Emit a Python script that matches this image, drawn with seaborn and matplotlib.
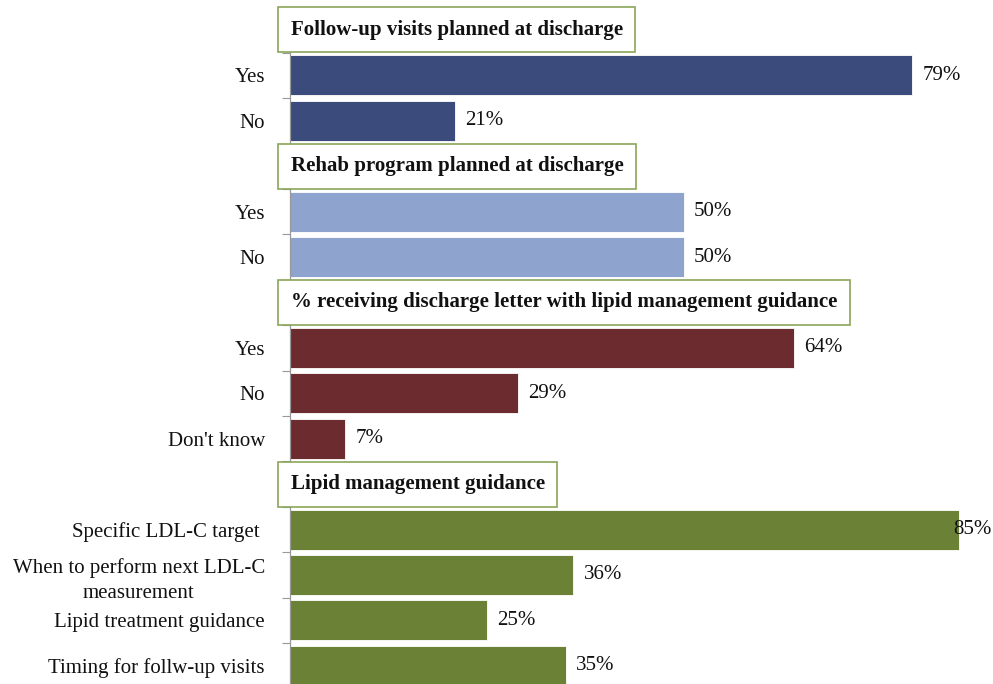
import pandas as pd
import matplotlib.pyplot as plt
import seaborn as sns

# data
headers = [
    "Follow-up visits planned at discharge",
    "Rehab program planned at discharge",
    "% receiving discharge letter with lipid management guidance",
    "Lipid management guidance",
]
followup_labels = ["Yes", "No"]
followup_values = [79, 21]
rehab_labels = ["Yes", "No"]
rehab_values = [50, 50]
letter_labels = ["Yes", "No", "Don't know"]
letter_values = [64, 29, 7]
guidance_labels = ["Specific LDL-C target ", "When to perform next LDL-C\nmeasurement",
                   "Lipid treatment guidance", "Timing for follw-up visits"]
guidance_values = [85, 36, 25, 35]

colors = ["#3A4B7C", "#8FA3CF", "#6C2B2E", "#6B8135"]

sections = [
    (followup_labels, followup_values),
    (rehab_labels, rehab_values),
    (letter_labels, letter_values),
    (guidance_labels, guidance_values),
]

# build one long table, with an empty slot before each section for its header
rows = []
order = []
tick_labels = []
header_slots = []
for i, (labels, values) in enumerate(sections):
    header_slots.append(len(order))
    order.append("h%d" % i)
    tick_labels.append("")
    for lab, val in zip(labels, values):
        key = "s%d_%s" % (i, lab)
        order.append(key)
        tick_labels.append(lab)
        rows.append({"key": key, "value": val, "section": headers[i]})
df = pd.DataFrame(rows)

sns.set_style("white")
plt.rcParams["font.family"] = ["Liberation Serif", "DejaVu Serif"]

fig = plt.figure(figsize=(9.93, 6.84), dpi=100)
ax = fig.add_axes([0.292, 0.0, 0.708, 1.0])

sns.barplot(data=df, x="value", y="key", hue="section", order=order,
            hue_order=headers, palette=colors, saturation=1, orient="h",
            dodge=False, width=0.88, edgecolor="white", linewidth=0.6,
            legend=False, ax=ax)

n = len(order)
ax.set_xlim(0, 89.3)
ax.set_ylim(n - 0.6, -0.66)
ax.set_xlabel("")
ax.set_ylabel("")
ax.set_xticks([])
ax.set_yticks(range(n))
ax.set_yticklabels(tick_labels, fontsize=15, multialignment="center",
                   linespacing=1.45, color="#111111")
ax.tick_params(axis="y", which="major", length=0, pad=18)
ax.set_yticks([k + 0.5 for k in range(n - 1)], minor=True)
ax.tick_params(axis="y", which="minor", left=True, length=6,
               color="#999999", width=0.8)
for s in ["top", "right", "bottom"]:
    ax.spines[s].set_visible(False)
ax.spines["left"].set_color("#999999")
ax.spines["left"].set_linewidth(0.9)
ax.spines["left"].set_bounds(n - 0.6, 0.5)

# value labels (the longest one is pushed back against the right edge)
for i, (labels, values) in enumerate(sections):
    start = header_slots[i] + 1
    for j, val in enumerate(values):
        ax.text(min(val + 1.3, 84.2), start + j, "%d%%" % val, va="center",
                ha="left", fontsize=15, color="#111111")

# section headers in boxes
for i, h in enumerate(headers):
    ax.text(0.1, header_slots[i], h, fontsize=15, fontweight="bold",
            va="center", ha="left", color="#111111", zorder=5,
            bbox=dict(boxstyle="square,pad=0.6", facecolor="white",
                      edgecolor="#8AA55A", linewidth=1.2))

fig.savefig("out.png", dpi=100)
